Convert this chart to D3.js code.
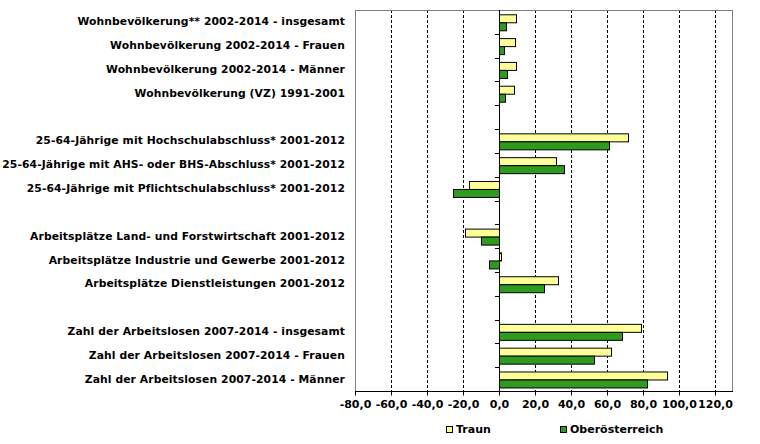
<!DOCTYPE html>
<html>
<head>
<meta charset="utf-8">
<script src="https://cdn.jsdelivr.net/npm/d3@7"></script>
<style>
  html, body { margin: 0; padding: 0; background: #fff; }
  svg text { font-family: "DejaVu Sans", Verdana, sans-serif; font-weight: bold; fill: #000; }
</style>
</head>
<body>
<div id="chart"></div>
<script>
// Kategorien (leere Einträge = Lücken zwischen den Gruppen)
const categories = [
    'Wohnbevölkerung** 2002-2014 - insgesamt',
    'Wohnbevölkerung 2002-2014 - Frauen',
    'Wohnbevölkerung 2002-2014 - Männer',
    'Wohnbevölkerung (VZ) 1991-2001',
    '',
    '25-64-Jährige mit Hochschulabschluss* 2001-2012',
    '25-64-Jährige mit AHS- oder BHS-Abschluss* 2001-2012',
    '25-64-Jährige mit Pflichtschulabschluss* 2001-2012',
    ' ',
    'Arbeitsplätze Land- und Forstwirtschaft 2001-2012',
    'Arbeitsplätze Industrie und Gewerbe 2001-2012',
    'Arbeitsplätze Dienstleistungen 2001-2012',
    '  ',
    'Zahl der Arbeitslosen 2007-2014 - insgesamt',
    'Zahl der Arbeitslosen 2007-2014 - Frauen',
    'Zahl der Arbeitslosen 2007-2014 - Männer'
];

const seriesNames = ['Traun', 'Oberösterreich'];

const traun = [9.4, 8.9, 9.4, 8.3, null, 71.7, 31.7, -16.7, null, -18.9, 1.1, 32.8, null, 78.9, 62.2, 93.3];
const ooe = [3.9, 2.8, 4.4, 3.3, null, 61.1, 36.1, -25.6, null, -10.0, -5.6, 25.0, null, 68.3, 52.8, 82.2];

const xTicks = [-80, -60, -40, -20, 0, 20, 40, 60, 80, 100, 120];

const colors = ['#ffff99', '#2e9a1e'];

const width = 760, height = 444;
const margin = {top: 10, right: 27, bottom: 53, left: 355};
const innerW = width - margin.left - margin.right;
const innerH = height - margin.top - margin.bottom;

const svg = d3.select('#chart')
    .append('svg')
    .attr('width', width)
    .attr('height', height);

const g = svg.append('g')
    .attr('transform', `translate(${margin.left},${margin.top})`);

// Skalen
const x = d3.scaleLinear()
    .domain([-80, 130])
    .range([0, innerW]);

const y = d3.scaleBand()
    .domain(categories)
    .range([0, innerH])
    .paddingInner(0.36)
    .paddingOuter(0.18);

const ySub = d3.scaleBand()
    .domain(seriesNames)
    .range([0, y.bandwidth()]);

// Gitterlinien (gestrichelt)
g.append('g')
    .selectAll('line')
    .data(xTicks.filter(d => d !== 0 && d !== -80))
    .enter()
    .append('line')
    .attr('x1', d => Math.round(x(d)) + 0.5)
    .attr('x2', d => Math.round(x(d)) + 0.5)
    .attr('y1', 0)
    .attr('y2', innerH)
    .attr('stroke', '#000')
    .attr('stroke-dasharray', '3,2');

// Rahmen
g.append('rect')
    .attr('x', 0.5)
    .attr('y', 0.5)
    .attr('width', innerW - 1)
    .attr('height', innerH)
    .attr('fill', 'none')
    .attr('stroke', '#808080');

// Balken
const rows = categories.map((c, i) => ({cat: c, values: [traun[i], ooe[i]]}));

const groups = g.selectAll('.row')
    .data(rows.filter(r => r.values[0] !== null))
    .enter()
    .append('g')
    .attr('class', 'row')
    .attr('transform', d => `translate(0,${y(d.cat)})`);

groups.selectAll('rect')
    .data(d => d.values.map((v, i) => ({name: seriesNames[i], value: v, i})))
    .enter()
    .append('rect')
    .attr('x', d => Math.round(x(Math.min(0, d.value))) + 0.5)
    .attr('y', d => Math.round(ySub(d.name)) + 0.5)
    .attr('width', d => Math.max(1, Math.round(Math.abs(x(d.value) - x(0)))))
    .attr('height', Math.round(ySub.bandwidth()))
    .attr('fill', d => colors[d.i])
    .attr('stroke', '#000')
    .attr('stroke-width', 1);

// Kategorieachse an der Nulllinie mit kleinen Strichen zwischen den Kategorien
const x0 = Math.round(x(0));
g.append('g')
    .selectAll('line')
    .data(d3.range(1, categories.length))
    .enter()
    .append('line')
    .attr('x1', x0 - 4)
    .attr('x2', x0)
    .attr('y1', d => Math.round(d * innerH / categories.length) + 0.5)
    .attr('y2', d => Math.round(d * innerH / categories.length) + 0.5)
    .attr('stroke', '#000');

g.append('line')
    .attr('x1', x0 + 0.5)
    .attr('x2', x0 + 0.5)
    .attr('y1', 0)
    .attr('y2', innerH)
    .attr('stroke', '#000');

// Kategoriebeschriftungen
svg.append('g')
    .selectAll('text')
    .data(categories.filter(c => c.trim() !== ''))
    .enter()
    .append('text')
    .attr('x', margin.left - 10)
    .attr('y', d => margin.top + y(d) + y.bandwidth() / 2)
    .attr('text-anchor', 'end')
    .attr('dominant-baseline', 'central')
    .style('font-size', '10.75px')
    .style('letter-spacing', '0.1px')
    .text(d => d);

// Werteachse
const xAxis = g.append('g')
    .attr('transform', `translate(0,${innerH + 0.5})`)
    .call(d3.axisBottom(x)
        .tickValues(xTicks)
        .tickSize(4)
        .tickFormat(d => d3.format('.1f')(d).replace('.', ',').replace('−', '-')));

xAxis.select('.domain').attr('stroke', '#000').attr('d', `M0,0H${innerW}`);
xAxis.selectAll('.tick line').attr('stroke', '#000');
xAxis.selectAll('.tick text')
    .attr('y', 9)
    .style('font-size', '11px')
    .style('font-family', '"DejaVu Sans", Verdana, sans-serif');

// Legende
const legendX = [446, 560];
const legend = svg.append('g')
    .selectAll('g')
    .data(seriesNames)
    .enter()
    .append('g')
    .attr('transform', (d, i) => `translate(${legendX[i]},426)`);

legend.append('rect')
    .attr('x', 0.5)
    .attr('y', 0.5)
    .attr('width', 6)
    .attr('height', 6)
    .attr('fill', (d, i) => colors[i])
    .attr('stroke', '#000');

legend.append('text')
    .attr('x', 10)
    .attr('y', 3.5)
    .attr('dominant-baseline', 'central')
    .style('font-size', '11px')
    .text(d => d);
</script>
</body>
</html>
